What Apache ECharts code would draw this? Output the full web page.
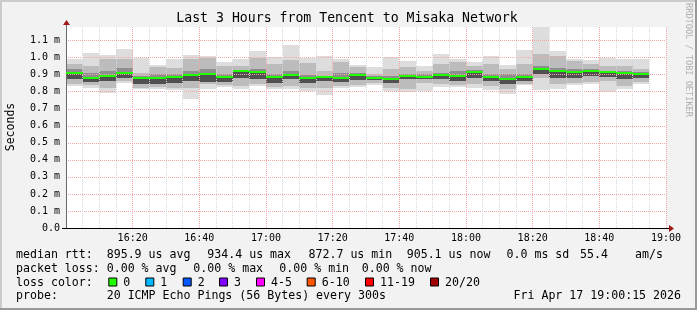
<!DOCTYPE html>
<html><head><meta charset="utf-8">
<script src="https://cdn.jsdelivr.net/npm/echarts@6/dist/echarts.min.js"></script>
<style>html,body{margin:0;padding:0;background:#f2f2f2}#c{width:697px;height:310px}</style>
</head><body><div id="c"></div>
<script>
// ---- data (values in ms) ----
const times = ["16:00","16:05","16:10","16:15","16:20","16:25","16:30","16:35","16:40","16:45","16:50","16:55",
  "17:00","17:05","17:10","17:15","17:20","17:25","17:30","17:35","17:40","17:45","17:50","17:55",
  "18:00","18:05","18:10","18:15","18:20","18:25","18:30","18:35","18:40","18:45","18:50"];
const medianMs = [0.908,0.880,0.890,0.912,0.880,0.880,0.886,0.896,0.902,0.886,0.920,0.916,
  0.886,0.898,0.878,0.886,0.880,0.898,0.880,0.873,0.890,0.886,0.898,0.890,
  0.916,0.886,0.875,0.886,0.934,0.920,0.916,0.922,0.914,0.910,0.905];
const minMs = [0.832,0.820,0.792,0.853,0.814,0.818,0.810,0.755,0.818,0.827,0.814,0.833,
  0.814,0.814,0.804,0.780,0.820,0.827,0.839,0.804,0.798,0.804,0.829,0.827,
  0.824,0.808,0.788,0.839,0.810,0.818,0.839,0.843,0.800,0.818,0.847];
const lo2Ms = [0.847,0.837,0.824,0.863,0.824,0.827,0.824,0.824,0.843,0.839,0.833,0.843,
  0.827,0.833,0.824,0.824,0.833,0.839,0.853,0.824,0.814,0.853,0.847,0.839,
  0.843,0.833,0.814,0.847,0.882,0.843,0.853,0.859,0.863,0.833,0.859];
const lo3Ms = [0.873,0.857,0.863,0.882,0.843,0.847,0.853,0.863,0.860,0.859,0.882,0.873,
  0.853,0.873,0.853,0.863,0.859,0.867,0.869,0.853,0.873,0.873,0.873,0.863,
  0.882,0.863,0.843,0.863,0.902,0.882,0.882,0.892,0.886,0.873,0.882];
const hi3Ms = [0.932,0.912,0.920,0.941,0.895,0.905,0.902,0.922,0.931,0.902,0.925,0.931,
  0.902,0.922,0.900,0.892,0.910,0.912,0.890,0.892,0.906,0.902,0.912,0.922,
  0.927,0.902,0.902,0.906,0.951,0.941,0.931,0.931,0.922,0.922,0.916];
const hi2Ms = [0.965,0.951,0.995,0.990,0.912,0.945,0.941,0.990,1.000,0.951,0.951,1.000,
  0.961,0.984,0.971,0.922,0.976,0.947,0.902,0.931,0.945,0.922,0.961,0.976,
  0.951,0.961,0.931,0.961,1.020,1.010,0.980,0.965,0.951,0.951,0.931];
const maxMs = [0.990,1.025,1.018,1.050,0.998,0.959,0.992,1.018,1.012,0.973,0.992,1.037,
  1.002,1.072,0.998,1.008,0.992,0.959,0.943,1.002,0.978,0.949,1.020,0.992,
  0.976,1.008,0.955,1.043,1.180,1.037,0.992,0.984,1.000,0.990,0.992];
const xTickLabels = ["16:20","16:40","17:00","17:20","17:40","18:00","18:20","18:40","19:00"];
const yTickLabels = ["0.0","0.1 m","0.2 m","0.3 m","0.4 m","0.5 m","0.6 m","0.7 m","0.8 m","0.9 m","1.0 m","1.1 m"];
const stepMin = 5;
const lossLabels = ["0","1","2","3","4-5","6-10","11-19","20/20"];
const lossColors = ["#20ff00","#00b8ff","#0059ff","#7e00ff","#ff00ff","#ff5500","#ff0000","#a10000"];

// ---- build ----
const MONO = '"DejaVu Sans Mono", "Liberation Mono", monospace';
function toMin(t){ const p=t.split(':'); return (parseInt(p[0])-16)*60+parseInt(p[1]); }
const starts = times.map(toMin);
function bandData(lo, hi){ return starts.map((s,i)=>[s, s+stepMin, lo[i], hi[i]]); }
function bandSeries(lo, hi, color){
  return { type:'custom', clip:true, z:2, silent:true,
    data: bandData(lo, hi),
    encode:{x:[0,1], y:[2,3]},
    renderItem:function(params, api){
      const a = api.coord([api.value(0), api.value(2)]);
      const b = api.coord([api.value(1), api.value(3)]);
      const x0=Math.round(a[0]), x1=Math.round(b[0]);
      const y0=Math.round(b[1]), y1=Math.round(a[1]);
      return {type:'rect', shape:{x:x0,y:y0,width:x1-x0,height:Math.max(1,y1-y0)}, style:{fill:color}};
    }};
}
const medSeries = { type:'custom', clip:true, z:8, silent:true,
  data: starts.map((s,i)=>[s, s+stepMin, medianMs[i]]),
  encode:{x:[0,1], y:2},
  renderItem:function(params, api){
    const a = api.coord([api.value(0), api.value(2)]);
    const b = api.coord([api.value(1), api.value(2)]);
    const x0=Math.round(a[0]), x1=Math.round(b[0]);
    const y=Math.round(a[1]);
    return {type:'rect', shape:{x:x0,y:y-1,width:x1-x0,height:2}, style:{fill:'#20ff00'}};
  }};

const chart = echarts.init(document.getElementById('c'), null, {renderer:'canvas'});
const gridRed = '#f2a6a6';
const gridGray = '#d6d6d6';

const legendRows = [
  [[16,"median rtt:"],[106.7,"895.9 us avg"],[207.3,"934.4 us max"],[308.5,"872.7 us min"],[406.7,"905.1 us now"],[506.5,"0.0 ms sd"],[580,"55.4"],[635,"am/s"]],
  [[16,"packet loss:"],[106.7,"0.00 % avg"],[193.3,"0.00 % max"],[279.3,"0.00 % min"],[361.7,"0.00 % now"]],
  [[16,"loss color:"]],
  [[16,"probe:"],[106.7,"20 ICMP Echo Pings (56 Bytes) every 300s"]]
];
const rowY = [255, 268.7, 282.5, 296];
const boxX = [108.3,145.3,182.7,219,256,306.7,365,430];
const graphics = [];
// 3D border
graphics.push({type:'rect', shape:{x:0,y:0,width:697,height:2}, style:{fill:'#cbcbcb'}, silent:true});
graphics.push({type:'rect', shape:{x:0,y:0,width:2,height:310}, style:{fill:'#cbcbcb'}, silent:true});
graphics.push({type:'rect', shape:{x:0,y:308,width:697,height:2}, style:{fill:'#999999'}, silent:true});
graphics.push({type:'rect', shape:{x:695,y:0,width:2,height:310}, style:{fill:'#999999'}, silent:true});
// title
graphics.push({type:'text', x:347, y:19, silent:true, style:{text:'Last 3 Hours from Tencent to Misaka Network', font:'13.2px '+MONO, fill:'#000', align:'center', verticalAlign:'middle'}});
// y name
graphics.push({type:'text', x:11, y:127, rotation:Math.PI/2, silent:true, style:{text:'Seconds', font:'11.5px '+MONO, fill:'#000', align:'center', verticalAlign:'middle'}});
// watermark
graphics.push({type:'text', x:688, y:60, rotation:-Math.PI/2, silent:true, style:{text:'RRDTOOL / TOBI OETIKER', font:'8.6px '+MONO, fill:'#b0b0b0', align:'center', verticalAlign:'middle'}});
// legend text
legendRows.forEach((row,r)=>row.forEach(seg=>{
  graphics.push({type:'text', x:seg[0], y:rowY[r], silent:true, style:{text:seg[1], font:'11.6px '+MONO, fill:'#000', align:'left', verticalAlign:'middle'}});
}));
lossLabels.forEach((lab,i)=>{
  graphics.push({type:'rect', shape:{x:boxX[i]+0.5,y:rowY[2]-4.5,width:8,height:8}, style:{fill:lossColors[i], stroke:'#000', lineWidth:1}, silent:true});
  graphics.push({type:'text', x:boxX[i]+15, y:rowY[2], silent:true, style:{text:lab, font:'11.6px '+MONO, fill:'#000', align:'left', verticalAlign:'middle'}});
});
graphics.push({type:'text', x:681, y:rowY[3], silent:true, style:{text:'Fri Apr 17 19:00:15 2026', font:'11.6px '+MONO, fill:'#000', align:'right', verticalAlign:'middle'}});

chart.setOption({
  animation:false,
  backgroundColor:'#f2f2f2',
  grid:{left:66, right:31, top:27, bottom:82, show:true, backgroundColor:'#ffffff', borderWidth:0},
  xAxis:{type:'value', min:0, max:180, interval:20, z:5,
    axisLine:{show:true, onZero:false, lineStyle:{color:'#000', width:1}},
    axisTick:{show:false},
    minorTick:{show:false, splitNumber:4},
    minorSplitLine:{show:true, lineStyle:{color:gridGray, width:1, type:[1,1]}},
    splitLine:{show:true, showMinLine:false, lineStyle:{color:gridRed, width:1, type:[1,1]}},
    axisLabel:{fontFamily:MONO, fontSize:10, color:'#000', margin:5,
      showMinLabel:false,
      formatter:function(v){ const k=Math.round(v/20)-1; return (k>=0 && k<xTickLabels.length)? xTickLabels[k] : ''; }}
  },
  yAxis:{type:'value', min:0, max:1.18, interval:0.1, z:5,
    axisLine:{show:true, lineStyle:{color:'#6a6a6a', width:1}},
    axisTick:{show:false},
    splitLine:{show:true, showMinLine:false, showMaxLine:false, lineStyle:{color:gridRed, width:1, type:[1,1]}},
    axisLabel:{fontFamily:MONO, fontSize:10, color:'#000', margin:6, showMaxLabel:false,
      formatter:function(v){ const k=Math.round(v*10); if(Math.abs(v*10-k)>1e-6) return ''; return yTickLabels[k]||''; }}
  },
  series:[
    bandSeries(minMs, maxMs, '#dddddd'),
    bandSeries(lo2Ms, hi2Ms, '#bcbcbc'),
    bandSeries(medianMs, hi3Ms, '#8e8e8e'),
    bandSeries(lo3Ms, medianMs, '#505050'),
    medSeries
  ],
  graphic: graphics
});

// axis arrows positioned from the axes' own scales
const pEnd = chart.convertToPixel({gridIndex:0}, [180, 0]);
const pTop = chart.convertToPixel({gridIndex:0}, [0, 1.18]);
const extra = graphics.slice();
extra.push({type:'line', shape:{x1:pEnd[0], y1:pEnd[1]+0.5, x2:pEnd[0]+4, y2:pEnd[1]+0.5}, style:{stroke:'#000', lineWidth:1}, silent:true});
extra.push({type:'line', shape:{x1:pEnd[0]-604, y1:pEnd[1]+0.5, x2:pEnd[0]-600, y2:pEnd[1]+0.5}, style:{stroke:'#000', lineWidth:1}, silent:true});
extra.push({type:'polygon', shape:{points:[[pEnd[0]+3,pEnd[1]-3],[pEnd[0]+8,pEnd[1]+0.5],[pEnd[0]+3,pEnd[1]+4]]}, style:{fill:'#9e1a1a'}, silent:true});
extra.push({type:'line', shape:{x1:pTop[0]+0.5, y1:pTop[1], x2:pTop[0]+0.5, y2:pTop[1]-4}, style:{stroke:'#6a6a6a', lineWidth:1}, silent:true});
extra.push({type:'polygon', shape:{points:[[pTop[0]-3,pTop[1]-2],[pTop[0]+0.5,pTop[1]-7],[pTop[0]+4,pTop[1]-2]]}, style:{fill:'#9e1a1a'}, silent:true});
chart.setOption({graphic: extra}, {replaceMerge:['graphic']});
</script></body></html>
